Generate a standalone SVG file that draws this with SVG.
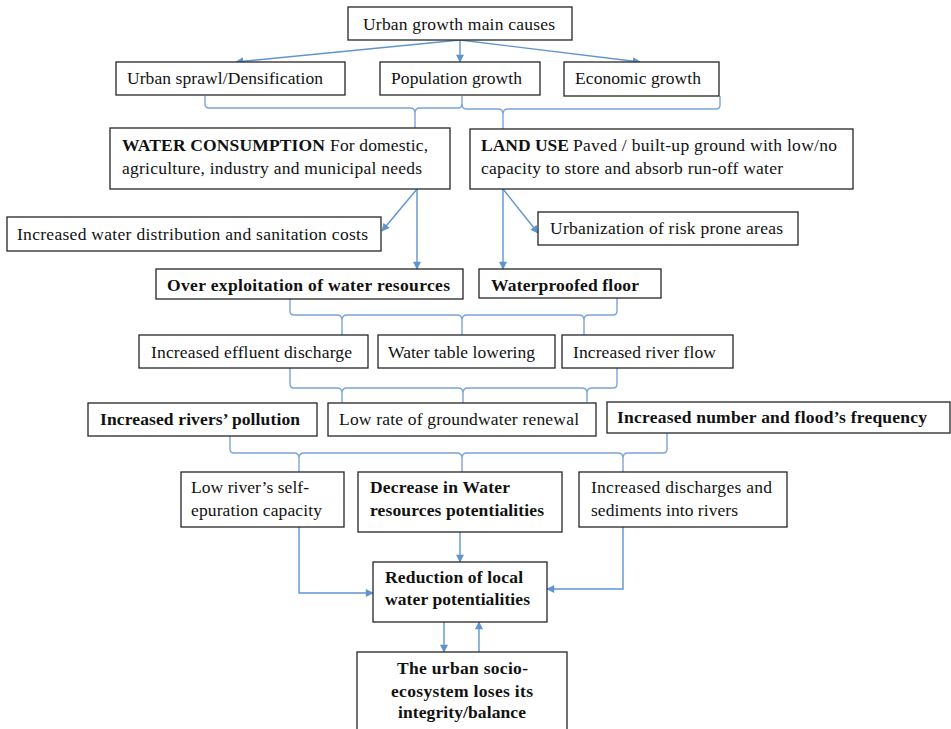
<svg xmlns="http://www.w3.org/2000/svg" width="951" height="729" viewBox="0 0 951 729">
<style>
.box{fill:#fff;stroke:#262626;stroke-width:1.3}
text{font-family:"Liberation Serif","Times New Roman",serif;font-size:17.5px;fill:#111}
.b{font-weight:bold}
.arr{fill:none;stroke:#5f95cf;stroke-width:1.4}
.br{fill:none;stroke:#7aa5d6;stroke-width:1.4}
</style>
<defs>
<marker id="ah" viewBox="0 0 10 10" refX="9" refY="5" markerWidth="9" markerHeight="8" markerUnits="userSpaceOnUse" orient="auto">
<path d="M0,0 L10,5 L0,10 z" fill="#5f95cf"/>
</marker>
</defs>
<g id="connectors">
<path class="arr" d="M460,40 L236,62" marker-end="url(#ah)"/>
<path class="arr" d="M460,40 L460,62" marker-end="url(#ah)"/>
<path class="arr" d="M460,40 L640,62" marker-end="url(#ah)"/>
<path class="br" d="M205,96 L205,104 Q205,108 209,108 L410,108 Q415,108 415,113 L415,128 M415,113 Q415,108 420,108 L458,108 Q462,108 462,104 L462,96"/>
<path class="br" d="M462,104 Q462,109 466,109 L498,109 Q503,109 503,114 L503,129 M503,114 Q503,109 508,109 L716,109 Q720,109 720,105 L720,96"/>
<path class="arr" d="M417,189 L382,231" marker-end="url(#ah)"/>
<path class="arr" d="M417,189 L417,269" marker-end="url(#ah)"/>
<path class="arr" d="M503,189 L503,269" marker-end="url(#ah)"/>
<path class="arr" d="M503,189 L538,233" marker-end="url(#ah)"/>
<path class="br" d="M290,299 L290,311 Q290,315 294,315 L337,315 Q342,315 342,320 L342,335 M342,320 Q342,315 347,315 L457,315 Q462,315 462,320 L462,335 M462,320 Q462,315 467,315 L579,315 Q584,315 584,320 L584,335 M584,320 Q584,315 589,315 L613,315 Q617,315 617,311 L617,298"/>
<path class="br" d="M290,368 L290,384 Q290,388 294,388 L337,388 Q342,388 342,393 L342,403 M342,393 Q342,388 347,388 L458,388 Q463,388 463,393 L463,403 M463,393 Q463,388 468,388 L582,388 Q587,388 587,393 L587,402 M587,393 Q587,388 592,388 L613,388 Q617,388 617,384 L617,368"/>
<path class="br" d="M230,436 L230,449 Q230,453 234,453 L294,453 Q299,453 299,458 L299,472 M299,458 Q299,453 304,453 L457,453 Q462,453 462,458 L462,472 M462,458 Q462,453 467,453 L618,453 Q623,453 623,458 L623,472 M623,458 Q623,453 628,453 L663,453 Q667,453 667,449 L667,433"/>
<path class="arr" d="M460,532 L460,562" marker-end="url(#ah)"/>
<path class="arr" d="M299,527 L299,593 L373,593" marker-end="url(#ah)"/>
<path class="arr" d="M623,527 L623,589 L547,589" marker-end="url(#ah)"/>
<path class="arr" d="M444,622 L444,652" marker-end="url(#ah)"/>
<path class="arr" d="M479,652 L479,622" marker-end="url(#ah)"/>
</g>
<g id="n-main">
<rect class="box" x="348" y="7" width="224" height="33"/>
<text x="363" y="30" textLength="192" lengthAdjust="spacing">Urban growth main causes</text>
</g>
<g id="n-sprawl">
<rect class="box" x="116" y="62" width="229" height="33"/>
<text x="127" y="84" textLength="196" lengthAdjust="spacing">Urban sprawl/Densification</text>
</g>
<g id="n-pop">
<rect class="box" x="380" y="62" width="160" height="33"/>
<text x="391" y="84" textLength="131" lengthAdjust="spacing">Population growth</text>
</g>
<g id="n-eco">
<rect class="box" x="564" y="62" width="155" height="34"/>
<text x="575" y="84" textLength="126" lengthAdjust="spacing">Economic growth</text>
</g>
<g id="n-water">
<rect class="box" x="110" y="128" width="340" height="61"/>
<text class="b" x="122" y="151" textLength="203" lengthAdjust="spacing">WATER CONSUMPTION</text>
<text x="330" y="151" textLength="98" lengthAdjust="spacing">For domestic,</text>
<text x="122" y="174" textLength="300" lengthAdjust="spacing">agriculture, industry and municipal needs</text>
</g>
<g id="n-land">
<rect class="box" x="470" y="129" width="383" height="60"/>
<text class="b" x="481" y="151" textLength="88" lengthAdjust="spacing">LAND USE</text>
<text x="573" y="151" textLength="264" lengthAdjust="spacing">Paved / built-up ground with low/no</text>
<text x="481" y="174" textLength="302" lengthAdjust="spacing">capacity to store and absorb run-off water</text>
</g>
<g id="n-costs">
<rect class="box" x="7" y="217" width="374" height="34"/>
<text x="17" y="240" textLength="351" lengthAdjust="spacing">Increased water distribution and sanitation costs</text>
</g>
<g id="n-risk">
<rect class="box" x="538" y="212" width="260" height="33"/>
<text x="550" y="234" textLength="233" lengthAdjust="spacing">Urbanization of risk prone areas</text>
</g>
<g id="n-overexp">
<rect class="box" x="156" y="269" width="307" height="30"/>
<text class="b" x="167" y="291" textLength="283" lengthAdjust="spacing">Over exploitation of water resources</text>
</g>
<g id="n-waterproof">
<rect class="box" x="479" y="269" width="182" height="29"/>
<text class="b" x="491" y="291" textLength="148" lengthAdjust="spacing">Waterproofed floor</text>
</g>
<g id="n-effluent">
<rect class="box" x="139" y="335" width="229" height="33"/>
<text x="151" y="358" textLength="201" lengthAdjust="spacing">Increased effluent discharge</text>
</g>
<g id="n-table">
<rect class="box" x="378" y="335" width="177" height="33"/>
<text x="388" y="358" textLength="147" lengthAdjust="spacing">Water table lowering</text>
</g>
<g id="n-riverflow">
<rect class="box" x="562" y="335" width="171" height="33"/>
<text x="573" y="358" textLength="143" lengthAdjust="spacing">Increased river flow</text>
</g>
<g id="n-pollution">
<rect class="box" x="88" y="403" width="229" height="33"/>
<text class="b" x="100" y="425" textLength="200" lengthAdjust="spacing">Increased rivers’ pollution</text>
</g>
<g id="n-renewal">
<rect class="box" x="328" y="403" width="268" height="33"/>
<text x="339" y="425" textLength="240" lengthAdjust="spacing">Low rate of groundwater renewal</text>
</g>
<g id="n-flood">
<rect class="box" x="607" y="402" width="343" height="31"/>
<text class="b" x="617" y="423" textLength="310" lengthAdjust="spacing">Increased number and flood’s frequency</text>
</g>
<g id="n-selfep">
<rect class="box" x="181" y="472" width="163" height="55"/>
<text x="191" y="493" textLength="118" lengthAdjust="spacing">Low river’s self-</text>
<text x="191" y="516" textLength="131" lengthAdjust="spacing">epuration capacity</text>
</g>
<g id="n-decrease">
<rect class="box" x="358" y="472" width="204" height="60"/>
<text class="b" x="370" y="493" textLength="140" lengthAdjust="spacing">Decrease in Water</text>
<text class="b" x="370" y="516" textLength="174" lengthAdjust="spacing">resources potentialities</text>
</g>
<g id="n-sediments">
<rect class="box" x="579" y="472" width="208" height="55"/>
<text x="591" y="493" textLength="181" lengthAdjust="spacing">Increased discharges and</text>
<text x="591" y="516" textLength="147" lengthAdjust="spacing">sediments into rivers</text>
</g>
<g id="n-reduction">
<rect class="box" x="373" y="562" width="174" height="60"/>
<text class="b" x="385" y="583" textLength="138" lengthAdjust="spacing">Reduction of local</text>
<text class="b" x="385" y="605" textLength="145" lengthAdjust="spacing">water potentialities</text>
</g>
<g id="n-socio">
<rect class="box" x="357" y="652" width="210" height="90"/>
<text class="b" x="397" y="674" textLength="131" lengthAdjust="spacing">The urban socio-</text>
<text class="b" x="391" y="697" textLength="142" lengthAdjust="spacing">ecosystem loses its</text>
<text class="b" x="398" y="718" textLength="128" lengthAdjust="spacing">integrity/balance</text>
</g>
</svg>
